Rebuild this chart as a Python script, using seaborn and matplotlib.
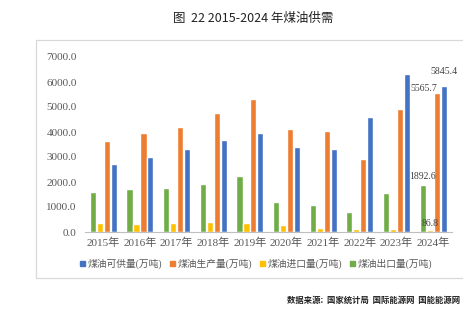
import matplotlib
matplotlib.use("Agg")
import matplotlib.pyplot as plt
import matplotlib.patches as mpatches
import seaborn as sns
import pandas as pd

years = ["2015年", "2016年", "2017年", "2018年", "2019年", "2020年", "2021年", "2022年", "2023年", "2024年"]
export_vals = [1610, 1703, 1757, 1930, 2222, 1198, 1078, 812, 1570, 1892.6]
import_vals = [346, 333, 359, 413, 359, 266, 160, 106, 106, 86.8]
production_vals = [3646, 3953, 4192, 4751, 5310, 4112, 4032, 2915, 4937, 5565.7]
supply_vals = [2715, 2994, 3314, 3700, 3979, 3394, 3340, 4618, 6335, 5845.4]

s_supply = "煤油可供量(万吨)"
s_prod = "煤油生产量(万吨)"
s_imp = "煤油进口量(万吨)"
s_exp = "煤油出口量(万吨)"

bar_order = [s_exp, s_imp, s_prod, s_supply]
legend_order = [s_supply, s_prod, s_imp, s_exp]
colors = {s_supply: "#4472C4", s_prod: "#ED7D31", s_imp: "#FFC000", s_exp: "#70AD47"}

rows = []
for name, vals in [(s_exp, export_vals), (s_imp, import_vals), (s_prod, production_vals), (s_supply, supply_vals)]:
    for y, v in zip(years, vals):
        rows.append({"year": y, "series": name, "value": v})
df = pd.DataFrame(rows)

sns.set_theme(style="white")
plt.rcParams["font.family"] = ["Liberation Serif", "Noto Sans CJK SC", "DejaVu Sans"]

fig = plt.figure(figsize=(4.63, 3.26), dpi=100)
W, H = 463, 326
ax = fig.add_axes([85 / W, 1 - 232 / H, (451.5 - 85) / W, (232 - 57) / H])

sns.barplot(data=df, x="year", y="value", hue="series", hue_order=bar_order,
            palette=colors, order=years, width=0.76, gap=0.12, ax=ax,
            legend=False, errorbar=None, saturation=1)

ax.set_ylim(0, 7000)
ax.set_yticks(range(0, 7001, 1000))
ax.set_yticklabels([f"{v:.1f}" for v in range(0, 7001, 1000)])
ax.set_xlabel("")
ax.set_ylabel("")
for sp in ["top", "right", "left"]:
    ax.spines[sp].set_visible(False)
ax.spines["bottom"].set_color("#bfbfbf")
ax.spines["bottom"].set_linewidth(0.8)
ax.tick_params(axis="both", length=0, colors="#595959", labelsize=8)
ax.tick_params(axis="y", pad=6)
ax.tick_params(axis="x", pad=4)

# data labels for 2024
conts = ax.containers
last = len(years) - 1
# containers order follows bar_order: exp, imp, prod, supply
lab_specs = [(0, "1892.6", "center", 3), (1, "86.8", "center", 1), (2, "5565.7", "right", 0), (3, "5845.4", "center", 7)]
for ci, txt, ha, dy in lab_specs:
    bar = conts[ci][last]
    xc = bar.get_x() + bar.get_width() / 2
    if ha == "right":
        xc = bar.get_x() + bar.get_width() * 0.6
    ax.annotate(txt, (xc, bar.get_height()), xytext=(0, dy), textcoords="offset points",
                ha=ha, va="bottom", fontsize=7, color="#404040")

# legend
handles = [mpatches.Patch(color=colors[n], label=n) for n in legend_order]
fig.legend(handles=handles, loc="center", bbox_to_anchor=(256 / W, 1 - 264 / H), ncol=4,
           frameon=False, fontsize=7, handlelength=0.55, handleheight=0.55,
           handletextpad=0.25, columnspacing=0.8, labelcolor="#595959")

# frame
frame = mpatches.Rectangle((36 / W, 1 - 278 / H), (W + 5 - 36) / W, (278 - 40) / H,
                           transform=fig.transFigure, fill=False, edgecolor="#d9d9d9",
                           linewidth=0.9, clip_on=False)
fig.patches.append(frame)

fig.text(253 / W, 1 - 18 / H, "图  22 2015-2024 年煤油供需", ha="center", va="center",
         fontsize=9, color="#222222", family=["Noto Sans CJK SC", "DejaVu Sans"])
fig.text(460 / W, 1 - 300 / H, "数据来源:  国家统计局  国际能源网  国能能源网", ha="right", va="center",
         fontsize=6, color="#222222", fontweight="bold", family=["Noto Sans CJK SC", "DejaVu Sans"])

fig.savefig("out.png", dpi=100)
